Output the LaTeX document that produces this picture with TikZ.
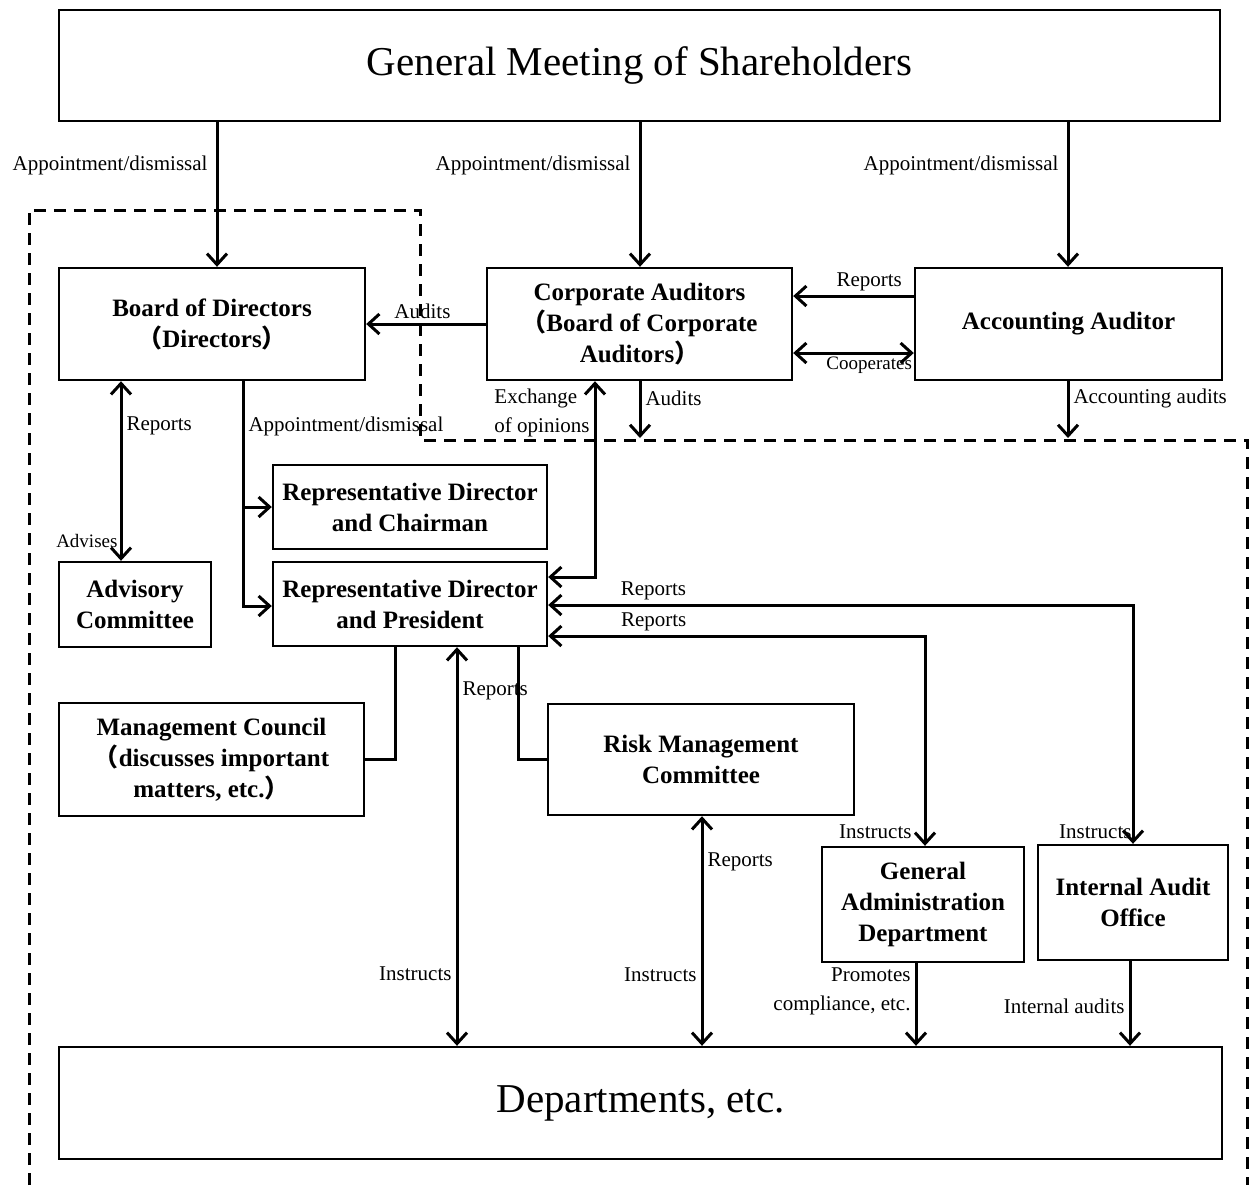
\documentclass[tikz,border=0pt]{standalone}
\usepackage{fontspec}
\setmainfont{Liberation Serif}
\newfontfamily\cjk{Noto Sans CJK JP}
\usetikzlibrary{arrows.meta}
\newcommand{\lpar}{{\cjk （}}
\newcommand{\rpar}{{\cjk ）}}
\begin{document}
\begin{tikzpicture}[x=0.5pt,y=-0.5pt,
  >={Straight Barb[length=5.5pt,width=10pt]},
  box/.style={draw,line width=1.2pt,align=center,inner sep=0pt,
    font=\fontsize{12.5}{15.5}\selectfont\bfseries},
  bigbox/.style={draw,line width=1.2pt,inner sep=0pt,
    font=\fontsize{20.5}{24}\selectfont},
  conn/.style={line width=1.5pt},
  lbl/.style={font=\fontsize{10.5}{14.5}\selectfont,inner sep=2pt},
  smalllbl/.style={font=\fontsize{9.5}{12}\selectfont,inner sep=1pt},
  boundary/.style={line width=1.5pt,dash pattern=on 6pt off 4pt}]
  \useasboundingbox (0,0) rectangle (1253,1185);
  % company boundary
  \draw[boundary] (29,1185) -- (29,210) -- (420,210) -- (420,440)
    -- (1247,440) -- (1247,1185);
  % boxes
  \node[bigbox,minimum width=580.5pt,minimum height=55.5pt] (gms) at (639.5,65.5) {General Meeting of Shareholders};
  \node[box,minimum width=153pt,minimum height=56pt] (bod) at (212,324) {Board of Directors\\\lpar Directors\rpar};
  \node[box,minimum width=152.5pt,minimum height=56pt] (cau) at (639.5,324) {Corporate Auditors\\\lpar Board of Corporate\\Auditors\rpar};
  \node[box,minimum width=153.5pt,minimum height=56pt] (aau) at (1068.5,324) {Accounting Auditor};
  \node[box,minimum width=137pt,minimum height=42pt] (rdc) at (410,507) {Representative Director\\and Chairman};
  \node[box,minimum width=137pt,minimum height=42pt] (rdp) at (410,604) {Representative Director\\and President};
  \node[box,minimum width=76pt,minimum height=42.5pt] (adv) at (135,604.5) {Advisory\\Committee};
  \node[box,minimum width=152.5pt,minimum height=56.5pt] (mgc) at (211.5,759.5) {Management Council\\\lpar discusses important\\matters, etc.\rpar};
  \node[box,minimum width=153pt,minimum height=55.5pt] (rmc) at (701,759.5) {Risk Management\\Committee};
  \node[box,minimum width=101pt,minimum height=57.5pt] (gad) at (923,904.5) {General\\Administration\\Department};
  \node[box,minimum width=95pt,minimum height=57.5pt] (iao) at (1133,902.5) {Internal Audit\\Office};
  \node[bigbox,minimum width=581.5pt,minimum height=56pt] (dep) at (640.5,1103) {Departments, etc.};
  \coordinate (audtip) at (640,438);
  \coordinate (acctip) at (1068,438);
  % shareholders
  \draw[conn,->] (gms.south -| 217,0) -- node[lbl,left=2pt,pos=0.3] {Appointment/dismissal} (bod.north -| 217,0);
  \draw[conn,->] (gms.south -| 640,0) -- node[lbl,left=2pt,pos=0.3] {Appointment/dismissal} (cau.north -| 640,0);
  \draw[conn,->] (gms.south -| 1068,0) -- node[lbl,left=2pt,pos=0.3] {Appointment/dismissal} (aau.north -| 1068,0);
  % auditors
  \draw[conn,->] (cau.west) -- node[lbl,above,pos=0.53] {Audits} (bod.east);
  \draw[conn,->] (aau.west |- 0,296) -- node[lbl,above,pos=0.37] {Reports} (cau.east |- 0,296);
  \draw[conn,<->] (cau.east |- 0,353) -- node[smalllbl,below,pos=0.63] {Cooperates} (aau.west |- 0,353);
  \draw[conn,->] (cau.south -| audtip) -- node[lbl,right,pos=0.3] {Audits} (audtip);
  \draw[conn,->] (aau.south -| acctip) -- node[lbl,right,pos=0.3] {Accounting audits} (acctip);
  \draw[conn,<->] (cau.south -| 595,0) |- node[lbl,left,align=left,pos=0.08] {Exchange\\of opinions} (rdp.east |- 0,577);
  % board
  \draw[conn,<->] (bod.south -| 121,0) -- node[lbl,right,pos=0.25] {Reports}
    node[smalllbl,left,pos=0.89] {Advises} (adv.north -| 121,0);
  \draw[conn,->] (bod.south -| 243,0) |- node[lbl,right,pos=0.1] {Appointment/dismissal} (rdp.west |- 0,606);
  \draw[conn,->] (rdc.west -| 243,0) -- (rdc.west);
  % president
  \draw[conn,<->] (rdp.east |- 0,605) -| node[lbl,above,pos=0.09] {Reports}
    node[lbl,left,inner sep=0pt,pos=0.975] {Instructs} (iao.north);
  \draw[conn,<->] (rdp.east |- 0,636) -| node[lbl,above,pos=0.14] {Reports}
    node[lbl,left=4pt,pos=0.967] {Instructs} (gad.north -| 925,0);
  \draw[conn] (rdp.south -| 395,0) |- (mgc.east);
  \draw[conn] (rdp.south -| 518,0) |- (rmc.west);
  \draw[conn,<->] (rdp.south -| 457,0) -- node[lbl,right,pos=0.11] {Reports}
    node[lbl,left,pos=0.82] {Instructs} (dep.north -| 457,0);
  \draw[conn,<->] (rmc.south -| 702,0) -- node[lbl,right,pos=0.2] {Reports}
    node[lbl,left,pos=0.69] {Instructs} (dep.north -| 702,0);
  \draw[conn,->] (gad.south -| 916,0) -- node[lbl,left,align=right,pos=0.34] {Promotes\\compliance, etc.} (dep.north -| 916,0);
  \draw[conn,->] (iao.south -| 1130,0) -- node[lbl,left,pos=0.53] {Internal audits} (dep.north -| 1130,0);
\end{tikzpicture}
\end{document}
